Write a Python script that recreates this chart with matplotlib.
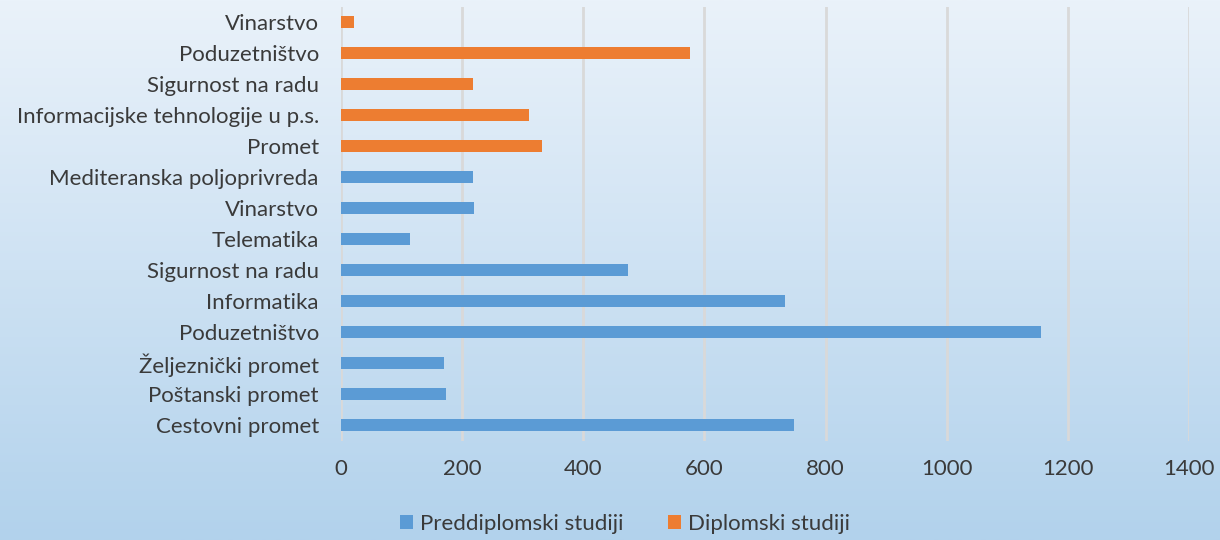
import matplotlib.pyplot as plt
import numpy as np

# kategorije odozdo prema gore
kategorije = ['Cestovni promet', 'Poštanski promet', 'Željeznički promet', 'Poduzetništvo',
              'Informatika', 'Sigurnost na radu', 'Telematika', 'Vinarstvo',
              'Mediteranska poljoprivreda', 'Promet', 'Informacijske tehnologije u p.s.',
              'Sigurnost na radu', 'Poduzetništvo', 'Vinarstvo']
preddiplomski = [748, 173, 170, 1155, 733, 474, 114, 220, 218, 0, 0, 0, 0, 0]
diplomski = [0, 0, 0, 0, 0, 0, 0, 0, 0, 332, 310, 218, 576, 22]
x_ticks = [0, 200, 400, 600, 800, 1000, 1200, 1400]

plt.rcParams['font.family'] = ['Lato', 'DejaVu Sans']

fig = plt.figure(figsize=(12.2, 5.4), dpi=100)

# pozadina s gradijentom
bg = fig.add_axes([0, 0, 1, 1], zorder=-1)
grad = np.linspace(0, 1, 256).reshape(-1, 1)
top = np.array([234, 242, 250]) / 255
bot = np.array([178, 210, 236]) / 255
img = top + (bot - top) * grad[:, :, None]
bg.imshow(img, aspect='auto', extent=[0, 1, 0, 1])
bg.axis('off')

ax = fig.add_axes([341 / 1220, 1 - 440.5 / 540, 848 / 1220, 434 / 540])
ax.patch.set_alpha(0)

y = np.arange(len(kategorije))
ax.barh(y, preddiplomski, height=0.4, color='#5B9BD5', label='Preddiplomski studiji', zorder=3)
ax.barh(y, diplomski, height=0.4, color='#ED7D31', label='Diplomski studiji', zorder=3)

ax.set_xlim(0, 1400)
ax.set_ylim(-0.5, len(kategorije) - 0.5)
ax.set_xticks(x_ticks)
ax.set_yticks(y)
ax.set_yticklabels(kategorije)
ax.tick_params(axis='both', length=0, labelsize=16, colors='#3A3A3A')
ax.tick_params(axis='y', pad=16)
ax.tick_params(axis='x', pad=13)
ax.grid(axis='x', color='#D9D9D9', linewidth=2, zorder=0)
for s in ax.spines.values():
    s.set_visible(False)

fig.legend(loc='lower center', ncol=2, frameon=False, fontsize=16,
           bbox_to_anchor=(0.512, -0.025), handlelength=0.6, handleheight=0.6,
           columnspacing=2.0, handletextpad=0.3, labelcolor='#3A3A3A')

fig.savefig('out.png', dpi=100)
